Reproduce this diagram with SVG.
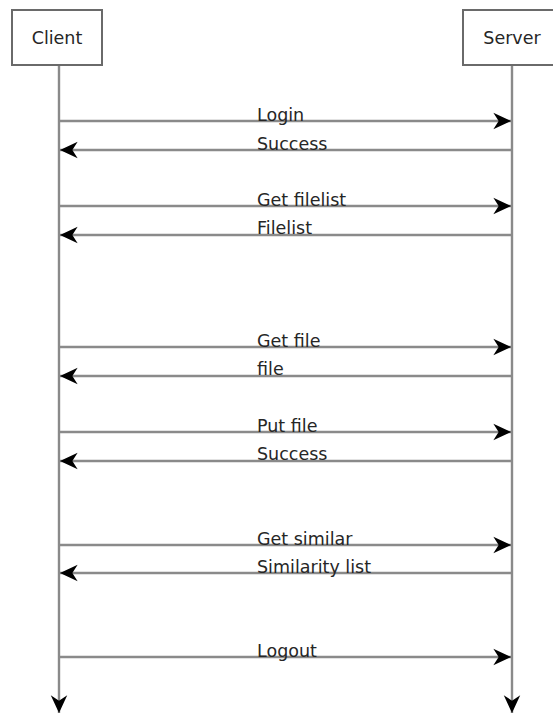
<svg xmlns="http://www.w3.org/2000/svg" width="553" height="713" viewBox="0 0 553 713">
  <style>
    .box { fill: #ffffff; stroke: #6a6a6a; stroke-width: 2; }
    .msg { stroke: #8a8a8a; stroke-width: 2.4; fill: none; marker-end: url(#head); }
    text { font-family: "DejaVu Sans", "Liberation Sans", sans-serif; font-size: 17.5px; fill: #262626; }
    .name { text-anchor: middle; }
  </style>
  <defs>
    <marker id="head" markerUnits="userSpaceOnUse" markerWidth="20" markerHeight="20" viewBox="-16 -8 17 16" refX="0" refY="0" orient="auto">
      <path d="M0,0 L-15,-7 L-10.5,0 L-15,7 Z" fill="#000000"/>
    </marker>
  </defs>

  <g id="client">
    <rect class="box" x="12" y="10" width="90" height="55"/>
    <text class="name" x="57" y="44">Client</text>
  </g>

  <g id="server">
    <rect class="box" x="463" y="10" width="98" height="55"/>
    <text class="name" x="512" y="44">Server</text>
  </g>

  <g id="connectors">
    <!-- lifelines -->
    <line class="msg" x1="59" y1="66" x2="59" y2="713"/>
    <line class="msg" x1="512" y1="66" x2="512" y2="713"/>

    <!-- messages -->
    <line class="msg" x1="59" y1="121" x2="511" y2="121"/>
    <line class="msg" x1="512" y1="150" x2="60" y2="150"/>
    <line class="msg" x1="59" y1="206" x2="511" y2="206"/>
    <line class="msg" x1="512" y1="235" x2="60" y2="235"/>
    <line class="msg" x1="59" y1="347" x2="511" y2="347"/>
    <line class="msg" x1="512" y1="376" x2="60" y2="376"/>
    <line class="msg" x1="59" y1="432" x2="511" y2="432"/>
    <line class="msg" x1="512" y1="461" x2="60" y2="461"/>
    <line class="msg" x1="59" y1="545" x2="511" y2="545"/>
    <line class="msg" x1="512" y1="573" x2="60" y2="573"/>
    <line class="msg" x1="59" y1="657" x2="511" y2="657"/>
  </g>

  <g id="labels">
    <text x="257" y="121">Login</text>
    <text x="257" y="150">Success</text>
    <text x="257" y="206">Get filelist</text>
    <text x="257" y="234">Filelist</text>
    <text x="257" y="347">Get file</text>
    <text x="257" y="375">file</text>
    <text x="257" y="432">Put file</text>
    <text x="257" y="460">Success</text>
    <text x="257" y="545">Get similar</text>
    <text x="257" y="573">Similarity list</text>
    <text x="257" y="657">Logout</text>
  </g>
</svg>
